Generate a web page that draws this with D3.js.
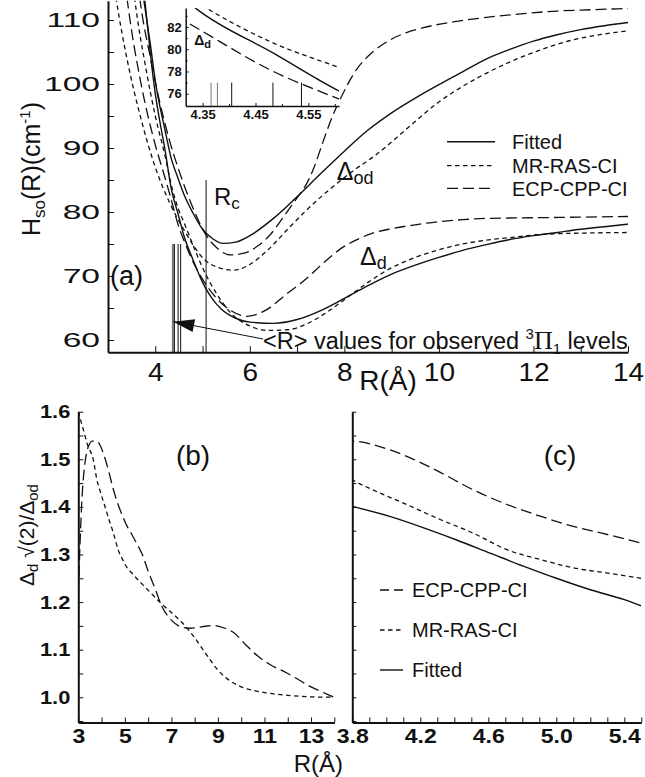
<!DOCTYPE html>
<html><head><meta charset="utf-8">
<script src="https://cdn.jsdelivr.net/npm/d3@7"></script>
<style>
body{margin:0;background:#fff;}
svg{display:block;font-family:"Liberation Sans",Arial,sans-serif;}
</style></head><body>
<svg id="chart" width="645" height="777"></svg>
<script>
// ---------------- DATA ----------------
// Panel (a): spin-orbit matrix elements H_so(R) in cm^-1 vs R (Å)
const fittedOd = [[3.70,116],[3.76,113],[3.9,106],[4.0,100.5],[4.2,93],[4.34,88.3],[4.47,85.5],[4.61,82.7],[4.8,79.8],[5.0,77.3],[5.2,75.9],[5.44,75.1],[5.7,75.3],[6.0,76.3],[6.5,79.0],[7.0,82.4],[7.5,86.0],[8.0,89.5],[8.5,92.8],[9.0,95.5],[9.5,97.8],[10.0,99.9],[10.5,101.9],[11.0,103.9],[11.5,105.4],[12.0,106.7],[12.5,107.7],[13.0,108.5],[13.5,109.1],[14.0,109.6]];
const fittedD = [[3.74,116],[3.78,113],[3.9,104.5],[4.0,98.5],[4.1,94],[4.2,90],[4.339,83.6],[4.484,79.65],[4.608,76.25],[4.8,72.5],[5.0,69.0],[5.2,66.5],[5.4,64.8],[5.7,63.4],[6.0,62.8],[6.5,62.6],[7.0,63.2],[7.5,64.6],[8.0,66.5],[8.5,68.5],[9.0,70.3],[9.5,71.7],[10.0,72.9],[10.5,74.0],[11.0,74.9],[11.5,75.7],[12.0,76.3],[12.5,76.8],[13.0,77.3],[13.5,77.7],[14.0,78.1]];
const mrOd = [[3.12,116],[3.18,113],[3.4,104],[3.7,94.5],[4.0,87],[4.3,81.5],[4.6,77.3],[5.05,72.5],[5.3,71.4],[5.65,70.9],[6.0,71.8],[6.4,74.2],[6.8,77.3],[7.2,80.3],[7.7,83.6],[8.2,86.5],[8.68,89.0],[9.32,93.0],[10.02,97.3],[10.73,100.6],[11.43,103.2],[12.14,105.3],[12.84,106.9],[13.4,107.7],[14.0,108.3]];
const mrD = [[3.52,116],[3.57,113],[3.8,102.5],[4.0,95],[4.2,89],[4.364,83.5],[4.484,80.55],[4.608,78.35],[4.8,74.8],[5.0,71.3],[5.3,67.2],[5.6,64.2],[6.0,62.2],[6.4,61.5],[6.8,61.6],[7.2,62.5],[7.6,64.2],[8.0,66.3],[8.5,69.0],[9.0,71.3],[9.5,72.9],[10.0,74.1],[10.5,75.0],[11.0,75.6],[11.5,76.0],[12.0,76.4],[12.5,76.6],[13.0,76.7],[14.0,76.8]];
const ecpOd = [[3.63,116],[3.68,113],[3.9,104],[4.1,97],[4.3,91.2],[4.5,86.5],[4.75,81.5],[5.05,76.7],[5.3,74.4],[5.58,73.3],[5.9,73.6],[6.15,74.6],[6.45,76.6],[6.71,79.2],[7.0,82.2],[7.17,84.0],[7.35,86.8],[7.55,91.0],[7.75,95.0],[7.91,97.6],[8.26,102.3],[8.6,105.0],[8.97,106.9],[9.3,108.0],[9.67,108.8],[10.38,109.8],[11.0,110.4],[11.79,111.0],[12.5,111.4],[13.2,111.6],[14.0,111.8]];
const ecpD = [[3.36,116],[3.41,113],[3.7,100],[4.0,90.5],[4.2,85.5],[4.318,82.47],[4.484,78.0],[4.608,75.53],[4.8,72.2],[5.0,69.5],[5.3,66.5],[5.6,64.6],[5.93,63.7],[6.3,64.5],[6.78,67.2],[7.2,69.6],[7.55,72.0],[7.91,74.2],[8.3,75.8],[8.6,76.7],[9.0,77.4],[9.5,78.0],[10.0,78.5],[10.5,78.8],[11.0,79.0],[12.0,79.1],[13.0,79.2],[14.0,79.3]];
// <R> values of observed 3Pi1 levels (first two drawn grey) and crossing point Rc
const obsR = [4.366, 4.378, 4.405, 4.483, 4.537];
const obsGrey = [true, true, false, false, false];
const Rc = 5.075;

// Panels (b),(c): ratio Δd·√2/Δod
const ratioECP = [[3.0,1.22],[3.08,1.33],[3.16,1.42],[3.28,1.49],[3.42,1.525],[3.6,1.538],[3.8,1.538],[3.92,1.531],[4.02,1.52],[4.16,1.50],[4.32,1.472],[4.51,1.436],[4.71,1.405],[4.91,1.38],[5.1,1.359],[5.3,1.342],[5.5,1.324],[5.75,1.30],[6.0,1.265],[6.3,1.228],[6.6,1.19],[7.0,1.162],[7.4,1.148],[7.8,1.145],[8.3,1.148],[8.8,1.151],[9.3,1.145],[9.7,1.135],[10.2,1.11],[10.7,1.087],[11.2,1.07],[12.0,1.05],[13.0,1.022],[14.0,1.0]];
const ratioMR = [[3.0,1.60],[3.2,1.565],[3.4,1.53],[3.64,1.50],[3.8,1.457],[3.92,1.436],[4.12,1.405],[4.32,1.373],[4.51,1.345],[4.71,1.31],[4.91,1.289],[5.1,1.272],[5.3,1.261],[5.5,1.25],[5.8,1.235],[6.1,1.22],[6.5,1.20],[7.0,1.178],[7.5,1.155],[8.0,1.125],[8.5,1.09],[9.0,1.057],[9.5,1.035],[10.0,1.022],[11.0,1.01],[12.0,1.004],[13.0,1.001],[14.0,1.0]];
const ratioFit = [[3.8,1.401],[4.02,1.38],[4.22,1.356],[4.41,1.331],[4.61,1.303],[4.81,1.275],[5.0,1.25],[5.2,1.226],[5.4,1.205],[5.5,1.192]];

// tick values
const aXMajor = [4,6,8,10,12,14], aXMinor = [5,7,9,11,13];
const aYMajor = [60,70,80,90,100,110], aYMinor = [65,75,85,95,105];
const iXMajor = [4.35,4.45,4.55], iYMajor = [76,78,80,82];
const bXMajor = [3,5,7,9,11,13], bXMinor = [4,6,8,10,12,14];
const bYMajor = [1.0,1.1,1.2,1.3,1.4,1.5,1.6], bYMinor = [0.95,1.05,1.15,1.25,1.35,1.45,1.55];
const cXMajor = [3.8,4.2,4.6,5.0,5.4], cXMinor = [3.9,4.0,4.1,4.3,4.4,4.5,4.7,4.8,4.9,5.1,5.2,5.3,5.5];

// ---------------- DRAWING ----------------
const INK = "#111";
const svg = d3.select("#chart");
const STY = {
  solid: {dash: null, w: 1.4},
  short: {dash: "4.5,3.5", w: 1.3},
  long:  {dash: "11,5", w: 1.3}
};

function axis(parent, orient, scale, majors, minors, fmt, o){
  const mk = orient === "left" ? d3.axisLeft : d3.axisBottom;
  if (minors && minors.length){
    const gm = parent.append("g").attr("transform", o.tr)
      .call(mk(scale).tickValues(minors).tickSizeInner(-o.minor).tickSizeOuter(0).tickFormat(""));
    gm.select(".domain").remove();
    gm.selectAll("line").attr("stroke", INK).attr("stroke-width", 1);
  }
  const g = parent.append("g").attr("transform", o.tr)
    .call(mk(scale).tickValues(majors).tickSizeInner(-o.major).tickSizeOuter(0).tickPadding(o.pad).tickFormat(fmt));
  g.attr("font-family", o.ff || "Liberation Sans, Arial, sans-serif").attr("font-size", o.fs).attr("font-weight", o.fw || "normal");
  g.select(".domain").attr("stroke", INK).attr("stroke-width", o.lw);
  g.selectAll(".tick line").attr("stroke", INK).attr("stroke-width", 1);
  g.selectAll("text").attr("fill", INK);
  if (o.sx){
    if (orient === "left") g.selectAll("text").attr("x", -o.pad / o.sx);
    g.selectAll("text").attr("transform", `scale(${o.sx},1)`);
  }
  return g;
}

function curve(parent, data, xs, ys, kind, clip){
  const line = d3.line().x(d => xs(d[0])).y(d => ys(d[1])).curve(d3.curveMonotoneX);
  parent.append("path").datum(data)
    .attr("d", line).attr("fill", "none").attr("stroke", INK)
    .attr("stroke-width", STY[kind].w)
    .attr("stroke-dasharray", STY[kind].dash)
    .attr("clip-path", clip ? `url(#${clip})` : null);
}

const defs = svg.append("defs");
function clipRect(id, x0, y0, x1, y1){
  defs.append("clipPath").attr("id", id).append("rect")
    .attr("x", x0).attr("y", y0).attr("width", x1 - x0).attr("height", y1 - y0);
}

// ===== Panel (a) =====
const xa = d3.scaleLinear().domain([3,14]).range([108,628]);
const ya = d3.scaleLinear().domain([58.1,113]).range([352.16,0.8]);
clipRect("clipA", xa(3), ya(113), xa(14) + 1, ya(58.1));
const ga = svg.append("g");

[[fittedOd,"solid"],[fittedD,"solid"],[mrOd,"short"],[mrD,"short"],[ecpOd,"long"],[ecpD,"long"]]
  .forEach(([d,k]) => curve(ga, d, xa, ya, k, "clipA"));

// observed <R> lines and Rc
obsR.forEach((r,i) => ga.append("line")
  .attr("x1", xa(r)).attr("x2", xa(r)).attr("y1", ya(58.1)).attr("y2", ya(75))
  .attr("stroke", obsGrey[i] ? "#777" : INK).attr("stroke-width", obsGrey[i] ? 1.4 : 1));
ga.append("line").attr("x1", xa(Rc)).attr("x2", xa(Rc)).attr("y1", ya(58.1)).attr("y2", ya(85))
  .attr("stroke", INK).attr("stroke-width", 1);

axis(ga, "left", ya, aYMajor, aYMinor, d3.format("d"),
  {tr:`translate(${xa(3)},0)`, major:6, minor:6, pad:8, fs:21, lw:2, sx:1.6});
axis(ga, "bottom", xa, aXMajor, aXMinor, d3.format("d"),
  {tr:`translate(0,${ya(58.1)})`, major:6, minor:6, pad:11, fs:25, lw:2, sx:1.12});

// labels in (a)
const txt = (p, x, y, s, fs, extra) => {
  const t = p.append("text").attr("x", x).attr("y", y).attr("font-size", fs).attr("fill", INK);
  if (s) t.text(s);
  if (extra) extra(t);
  return t;
};
txt(ga, xa(3.04), ya(68.6), "(a)", 27);
txt(ga, xa(5.24), ya(81.1), null, 24, t => {
  t.append("tspan").text("R");
  t.append("tspan").attr("font-size", 17).attr("dy", 4).text("c");
});
txt(ga, xa(7.84), ya(85.0), null, 25, t => {
  t.append("tspan").text("Δ");
  t.append("tspan").attr("font-size", 18).attr("dy", 4).text("od");
});
txt(ga, xa(8.33), ya(71.7), null, 25, t => {
  t.append("tspan").text("Δ");
  t.append("tspan").attr("font-size", 18).attr("dy", 4).text("d");
});
txt(ga, xa(6.28), ya(58.6), null, 23.5, t => {
  t.append("tspan").text("<R> values for observed ");
  t.append("tspan").attr("font-size", 15).attr("dy", -10).text("3");
  t.append("tspan").attr("dy", 10).attr("font-family", "Liberation Serif, serif").attr("font-size", 26).text("Π");
  t.append("tspan").attr("font-size", 15).attr("dy", 5).text("1");
  t.append("tspan").attr("dy", -5).text("\u00a0levels");
});
// arrow
const tail = [xa(6.28), ya(60.16)], tip = [xa(4.38), ya(62.86)];
ga.append("line").attr("x1", tail[0]).attr("y1", tail[1]).attr("x2", tip[0]).attr("y2", tip[1])
  .attr("stroke", INK).attr("stroke-width", 1);
{
  const ang = Math.atan2(tip[1] - tail[1], tip[0] - tail[0]);
  const L = 21, W = 6.5;
  const bx = tip[0] - L * Math.cos(ang), by = tip[1] - L * Math.sin(ang);
  const px = -Math.sin(ang) * W, py = Math.cos(ang) * W;
  ga.append("path").attr("d", `M${tip[0]},${tip[1]}L${bx+px},${by+py}L${bx-px},${by-py}Z`).attr("fill", INK);
}
// y label (a)
svg.append("text").attr("transform", "translate(40,169) rotate(-90)")
  .attr("text-anchor", "middle").attr("font-size", 25).attr("fill", INK)
  .call(t => {
    t.append("tspan").text("H");
    t.append("tspan").attr("font-size", 17).attr("dy", 5).text("so");
    t.append("tspan").attr("dy", -5).text("(R)(cm");
    t.append("tspan").attr("font-size", 15).attr("dy", -10).text("-1");
    t.append("tspan").attr("dy", 10).text(")");
  });
// x label (a)
svg.append("text").attr("x", 388).attr("y", 390).attr("text-anchor", "middle")
  .attr("font-size", 28).attr("fill", INK).text("R(Å)");

// legend (a)
const legA = [["Fitted","solid"],["MR-RAS-CI","short"],["ECP-CPP-CI","long"]];
const legAy = [141.7, 165.7, 188.3];
legA.forEach(([name,k],i) => {
  svg.append("line").attr("x1", 447).attr("x2", 495).attr("y1", legAy[i]).attr("y2", legAy[i])
    .attr("stroke", INK).attr("stroke-width", STY[k].w).attr("stroke-dasharray", STY[k].dash);
  svg.append("text").attr("x", 512).attr("y", legAy[i]).attr("dy", "0.36em")
    .attr("font-size", 20).attr("fill", INK).text(name);
});

// inset
const xi = d3.scaleLinear().domain([4.318,4.608]).range([185.7,339]);
const yi = d3.scaleLinear().domain([74.9,83.7]).range([106,8]);
clipRect("clipI", xi(4.318), yi(83.7), xi(4.608), yi(74.9));
const gi = svg.append("g");
gi.append("rect").attr("x", xi(4.318)).attr("y", yi(83.7)).attr("width", xi(4.608)-xi(4.318))
  .attr("height", yi(74.9)-yi(83.7)).attr("fill", "#fff");
[[fittedD,"solid"],[mrD,"short"],[ecpD,"long"]].forEach(([d,k]) => curve(gi, d, xi, yi, k, "clipI"));
obsR.forEach((r,i) => gi.append("line")
  .attr("x1", xi(r)).attr("x2", xi(r)).attr("y1", yi(74.9)).attr("y2", yi(77.0))
  .attr("stroke", obsGrey[i] ? "#777" : INK).attr("stroke-width", 1));
axis(gi, "left", yi, iYMajor, [77,79,81,83], d3.format("d"),
  {tr:`translate(${xi(4.318)},0)`, major:3, minor:2, pad:4, fs:13, fw:"bold", lw:1.5});
axis(gi, "bottom", xi, iXMajor, [4.40,4.50,4.60], d3.format(".2f"),
  {tr:`translate(0,${yi(74.9)})`, major:3, minor:2, pad:4, fs:13, fw:"bold", lw:1.5});
txt(gi, xi(4.334), yi(80.4), null, 14, t => {
  t.attr("font-weight", "bold");
  t.append("tspan").text("Δ");
  t.append("tspan").attr("font-size", 11).attr("dy", 3).text("d");
});

// ===== Panel (b) =====
const xb = d3.scaleLinear().domain([3,14]).range([78.3,334.3]);
const yb = d3.scaleLinear().domain([0.947,1.6]).range([722.5,411.7]);
clipRect("clipB", xb(3), yb(1.6) - 2, xb(14), yb(0.947));
const gb = svg.append("g");
curve(gb, ratioMR, xb, yb, "short", "clipB");
curve(gb, ratioECP, xb, yb, "long", "clipB");
axis(gb, "left", yb, bYMajor, bYMinor, d3.format(".1f"),
  {tr:`translate(${xb(3)},0)`, major:5, minor:5, pad:8, fs:19, fw:"bold", lw:2, sx:1.15});
axis(gb, "bottom", xb, bXMajor, bXMinor, d3.format("d"),
  {tr:`translate(0,${yb(0.947)})`, major:5, minor:5, pad:6, fs:20, fw:"bold", lw:2, sx:1.15});
gb.append("text").attr("x", 193).attr("y", 465).attr("text-anchor", "middle")
  .attr("font-size", 28).attr("fill", INK).text("(b)");
gb.append("text").attr("x", 343).attr("y", 772).attr("text-anchor", "end")
  .attr("font-size", 24).attr("fill", INK).text("R(Å)");
svg.append("text").attr("transform", "translate(34,535) rotate(-90)")
  .attr("text-anchor", "middle").attr("font-size", 21).attr("fill", INK)
  .call(t => {
    t.append("tspan").text("Δ");
    t.append("tspan").attr("font-size", 15).attr("dy", 4).text("d");
    t.append("tspan").attr("dy", -4).text(" √(2)/Δ");
    t.append("tspan").attr("font-size", 15).attr("dy", 4).text("od");
  });

// ===== Panel (c) =====
const xc = d3.scaleLinear().domain([3.8,5.5]).range([352.3,641.3]);
clipRect("clipC", xc(3.8), yb(1.6) - 2, xc(5.5), yb(0.947));
const gc = svg.append("g");
curve(gc, ratioECP, xc, yb, "long", "clipC");
curve(gc, ratioMR, xc, yb, "short", "clipC");
curve(gc, ratioFit, xc, yb, "solid", "clipC");
axis(gc, "left", yb, bYMajor, bYMinor, () => "",
  {tr:`translate(${xc(3.8)},0)`, major:4, minor:4, pad:4, fs:19, lw:2});
axis(gc, "bottom", xc, cXMajor, cXMinor, d3.format(".1f"),
  {tr:`translate(0,${yb(0.947)})`, major:5, minor:5, pad:6, fs:20, fw:"bold", lw:2, sx:1.15});
gc.append("text").attr("x", 560).attr("y", 465).attr("text-anchor", "middle")
  .attr("font-size", 28).attr("fill", INK).text("(c)");
const legC = [["ECP-CPP-CI","long"],["MR-RAS-CI","short"],["Fitted","solid"]];
const legCy = [590, 630, 670];
legC.forEach(([name,k],i) => {
  gc.append("line").attr("x1", 380).attr("x2", 403).attr("y1", legCy[i]).attr("y2", legCy[i])
    .attr("stroke", INK).attr("stroke-width", STY[k].w).attr("stroke-dasharray", k === "long" ? "9,5" : STY[k].dash);
  gc.append("text").attr("x", 412).attr("y", legCy[i]).attr("dy", "0.36em")
    .attr("font-size", 20).attr("fill", INK).text(name);
});
</script>
</body></html>
